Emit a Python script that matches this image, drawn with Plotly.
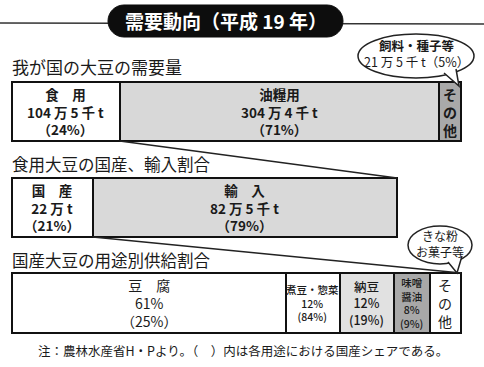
import plotly.graph_objects as go

W, H = 484, 367
FONT = "Noto Sans CJK JP"

# ---------------- data ----------------
title_text = "需要動向（平成 19 年）"

demand_title = "我が国の大豆の需要量"
demand_cats = ["食　用", "油糧用", "その他"]
demand_pct = [24, 71, 5]
demand_amt = ["104 万 5 千 t", "304 万 4 千 t", "21 万 5 千 t"]
demand_other_note = "飼料・種子等"

food_title = "食用大豆の国産、輸入割合"
food_cats = ["国　産", "輸　入"]
food_pct = [21, 79]
food_amt = ["22 万 t", "82 万 5 千 t"]

use_title = "国産大豆の用途別供給割合"
use_cats = ["豆　腐", "煮豆・惣菜", "納豆", "味噌<br>醤油", "その他"]
use_pct = [61, 12, 12, 8, 7]
use_domestic_share = [25, 84, 19, 9, None]
use_other_note = "きな粉<br>お菓子等"

footnote = "注：農林水産省H・Pより。（　）内は各用途における国産シェアである。"

# ---------------- styles / layout ----------------
demand_colors = ["#ffffff", "#d8d8d8", "#a9a9a9"]
food_colors = ["#ffffff", "#d9d9d9"]
use_colors = ["#ffffff", "#ffffff", "#e1e1e1", "#a8a8a8", "#ffffff"]

# pixel boxes of the three bars: (left, right, top, bottom)
boxes = [(12, 461, 82, 141), (12, 397, 178, 237), (12, 461, 273, 333)]
XPAD, YPAD = 0.6, 0.05


def px(x):
    return x / W


def py(y):
    return 1 - y / H


fig = go.Figure()
rows = [
    (demand_pct, demand_colors),
    (food_pct, food_colors),
    (use_pct, use_colors),
]

for i, (vals, cols) in enumerate(rows):
    sfx = "" if i == 0 else str(i + 1)
    for v, c in zip(vals, cols):
        fig.add_trace(go.Bar(
            x=[v], y=[0], orientation="h", width=1,
            marker=dict(color=c, line=dict(color="#111111", width=2)),
            xaxis="x" + sfx, yaxis="y" + sfx, hoverinfo="skip",
        ))

layout_axes = {}
for i, (l, r, t, b) in enumerate(boxes):
    sfx = "" if i == 0 else str(i + 1)
    total = sum(rows[i][0])
    sx = (r - l) / total
    sy = (b - t)
    layout_axes["xaxis" + sfx] = dict(
        domain=[px(l - XPAD * sx), px(r + XPAD * sx)],
        range=[-XPAD, total + XPAD], visible=False, fixedrange=True,
        anchor="y" + sfx)
    layout_axes["yaxis" + sfx] = dict(
        domain=[py(b + YPAD * sy), py(t - YPAD * sy)],
        range=[-0.5 - YPAD, 0.5 + YPAD], visible=False, fixedrange=True,
        anchor="x" + sfx)


def xpix(i, value):
    l, r, t, b = boxes[i]
    return l + (r - l) * value / sum(rows[i][0])


def centers(vals):
    out, acc = [], 0
    for v in vals:
        out.append(acc + v / 2)
        acc += v
    return out


def vert(s):
    return "<br>".join(list(s))


annots = []
TXT = "#1a1a1a"


def seg_label(i, x, text, size=13.5, weight="bold"):
    sfx = "" if i == 0 else str(i + 1)
    annots.append(dict(
        x=x, y=0, xref="x" + sfx, yref="y" + sfx, text=text, showarrow=False,
        font=dict(family=FONT, size=size, color=TXT, weight=weight),
        align="center", xanchor="center", yanchor="middle"))


# bar 1 labels
c1 = centers(demand_pct)
for k in range(2):
    seg_label(0, c1[k], f"{demand_cats[k]}<br>{demand_amt[k]}<br>（{demand_pct[k]}%）")
seg_label(0, c1[2], vert(demand_cats[2]), size=14)

# bar 2 labels
c2 = centers(food_pct)
for k in range(2):
    seg_label(1, c2[k], f"{food_cats[k]}<br>{food_amt[k]}<br>（{food_pct[k]}%）")

# bar 3 labels
c3 = centers(use_pct)
seg_label(2, c3[0], f"{use_cats[0]}<br>{use_pct[0]}%<br>（{use_domestic_share[0]}%）", weight="normal", size=14)
seg_label(2, c3[1], f"{use_cats[1]}<br>{use_pct[1]}%<br>({use_domestic_share[1]}%)", size=10.5, weight=500)
seg_label(2, c3[2], f"{use_cats[2]}<br>{use_pct[2]}%<br>({use_domestic_share[2]}%)", size=12.5, weight=500)
seg_label(2, c3[3], f"{use_cats[3]}<br>{use_pct[3]}%<br>({use_domestic_share[3]}%)", size=10.5, weight=500)
seg_label(2, c3[4], vert(use_cats[4]), size=14, weight="normal")


def ptext(x, y, text, size, color=TXT, xanchor="left", weight="normal"):
    annots.append(dict(
        x=px(x), y=py(y), xref="paper", yref="paper", text=text, showarrow=False,
        font=dict(family=FONT, size=size, color=color, weight=weight),
        xanchor=xanchor, yanchor="middle", align="center"))


# section titles
ptext(10, 66, demand_title, 17)
ptext(10, 164, food_title, 16.5)
ptext(10, 260, use_title, 16.5)
# header
ptext(226, 21, title_text, 19, color="#ffffff", xanchor="center", weight="bold")
# bubbles
ptext(416, 53, f"<b>{demand_other_note}</b><br>{demand_amt[2]}（{demand_pct[2]}%）", 12.5, xanchor="center")
ptext(440, 243, use_other_note, 12, xanchor="center")
# footnote
ptext(243, 350, footnote, 12.5, xanchor="center")

shapes = []
LINE = "#222222"

# header line + pill
shapes.append(dict(type="line", xref="paper", yref="paper", x0=0, x1=1,
                   y0=py(23), y1=py(24), line=dict(color="#333333", width=1.5)))
x0, x1, t, b = 108, 343, 5, 37
r = (b - t) / 2
m = (t + b) / 2
k = 0.5523 * r


def P(x, y):
    return f"{px(x):.5f},{py(y):.5f}"


path = (f"M {P(x0 + r, t)} L {P(x1 - r, t)} "
        f"C {P(x1 - r + k, t)} {P(x1, m - k)} {P(x1, m)} "
        f"C {P(x1, m + k)} {P(x1 - r + k, b)} {P(x1 - r, b)} "
        f"L {P(x0 + r, b)} "
        f"C {P(x0 + r - k, b)} {P(x0, m + k)} {P(x0, m)} "
        f"C {P(x0, m - k)} {P(x0 + r - k, t)} {P(x0 + r, t)} Z")
shapes.append(dict(type="path", xref="paper", yref="paper", path=path,
                   fillcolor="#0d0d0d", line=dict(color="#0d0d0d", width=1)))

# connecting (zoom) lines derived from data
l1x0 = xpix(0, demand_pct[0])
shapes.append(dict(type="line", xref="paper", yref="paper",
                   x0=px(l1x0), y0=py(boxes[0][3]),
                   x1=px(xpix(1, sum(food_pct))), y1=py(boxes[1][2]),
                   line=dict(color=LINE, width=1.5)))
l2x0 = xpix(1, food_pct[0])
shapes.append(dict(type="line", xref="paper", yref="paper",
                   x0=px(l2x0), y0=py(boxes[1][3]),
                   x1=px(xpix(2, sum(use_pct))), y1=py(boxes[2][2]),
                   line=dict(color=LINE, width=1.5)))

# speech bubbles
def bubble(cx, cy, rx, ry, base1, base2, tip):
    shapes.append(dict(type="circle", xref="paper", yref="paper",
                       x0=px(cx - rx), x1=px(cx + rx), y0=py(cy + ry), y1=py(cy - ry),
                       fillcolor="#ffffff", line=dict(color=LINE, width=1.5)))
    shapes.append(dict(type="path", xref="paper", yref="paper",
                       path=f"M {P(*base1)} L {P(*tip)} L {P(*base2)}",
                       fillcolor="#ffffff", line=dict(color=LINE, width=1.5)))


bubble(416, 56, 58, 22, (444, 73), (456, 69), (459, 86))
bubble(440, 245, 32, 19, (448, 262), (462, 256), (457, 273))

fig.update_layout(
    width=W, height=H, margin=dict(l=0, r=0, t=0, b=0),
    paper_bgcolor="#ffffff", plot_bgcolor="rgba(0,0,0,0)",
    barmode="stack", bargap=0, showlegend=False,
    annotations=annots, shapes=shapes, **layout_axes,
)

fig.write_html(
    "out.html",
    config={"displayModeBar": False, "staticPlot": True},
    post_script="document.body.style.margin='0';document.body.style.overflow='hidden';",
)
